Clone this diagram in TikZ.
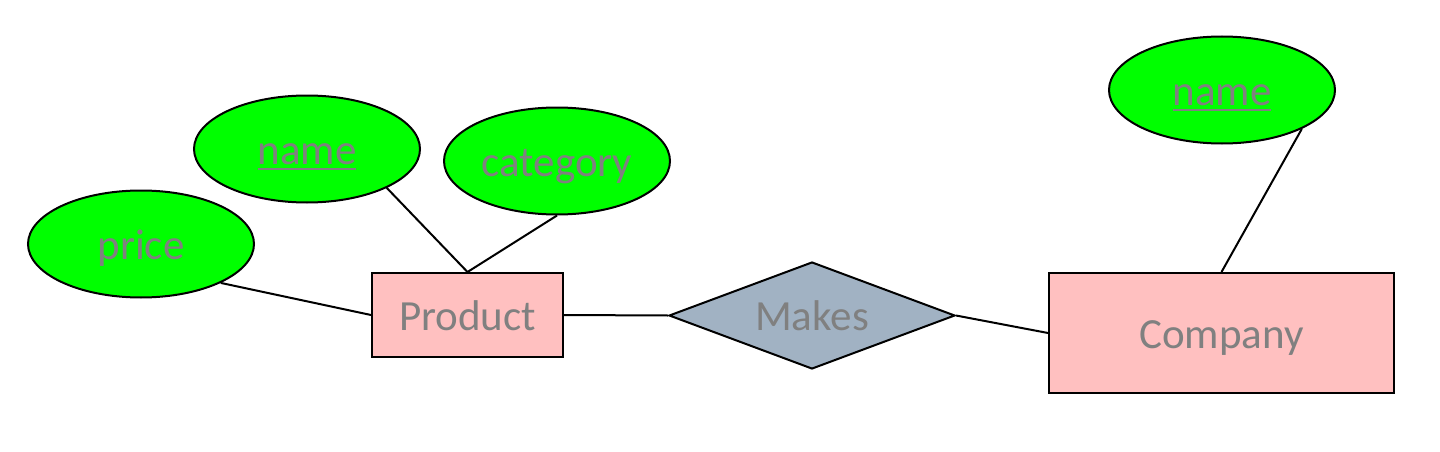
\documentclass[tikz,border=0pt]{standalone}
\usepackage{fontspec}
\setmainfont{Carlito}
\usetikzlibrary{shapes.geometric}
\definecolor{attrgreen}{RGB}{0,255,0}
\definecolor{entpink}{RGB}{255,192,192}
\definecolor{relgray}{RGB}{161,178,195}
\definecolor{txtgray}{RGB}{128,128,128}
\tikzstyle{attr}=[ellipse, draw, fill=attrgreen, inner sep=0pt, minimum width=226pt, minimum height=107pt]
\tikzstyle{entity}=[rectangle, draw, fill=entpink, inner sep=0pt]
\tikzstyle{rel}=[diamond, draw, fill=relgray, inner sep=0pt, aspect=2.67, minimum width=286pt, minimum height=107pt]
\newcommand{\attr}{\node[attr]}
\newcommand{\entity}{\node[entity]}
\newsavebox{\keybox}
\newcommand{\keyattr}[1]{\sbox{\keybox}{#1}\rlap{\usebox{\keybox}}\rule[-6pt]{\wd\keybox}{2.5pt}}

\begin{document}
\begin{tikzpicture}[x=1pt, y=-1pt
    ,every node/.style={text=txtgray, font=\fontsize{43}{50}\selectfont, text height=40pt, text depth=10pt}
    ,line width=2pt
]
\useasboundingbox (0,0) rectangle (1440,452);
\attr (price) at (141,244) {price};
\attr (pname) at (307,149) {\keyattr{name}};
\attr (category) at (557,161) {category};
\attr (cname) at (1222,90) {\keyattr{name}};
\entity[minimum width=191pt, minimum height=84pt] (product) at (467.5,315) {Product};
\entity[minimum width=345pt, minimum height=120pt] (company) at (1221.5,333) {Company};
\node[rel] (makes) at (812,315.5) {Makes};
\path
(price.-26) edge (product.west)
(pname.-26) edge (product.north)
(category.south) edge (product.north)
(product.east) edge (makes.west)
(makes.east) edge (company.west)
(cname.-26) edge (company.north)
;
\end{tikzpicture}
\end{document}
